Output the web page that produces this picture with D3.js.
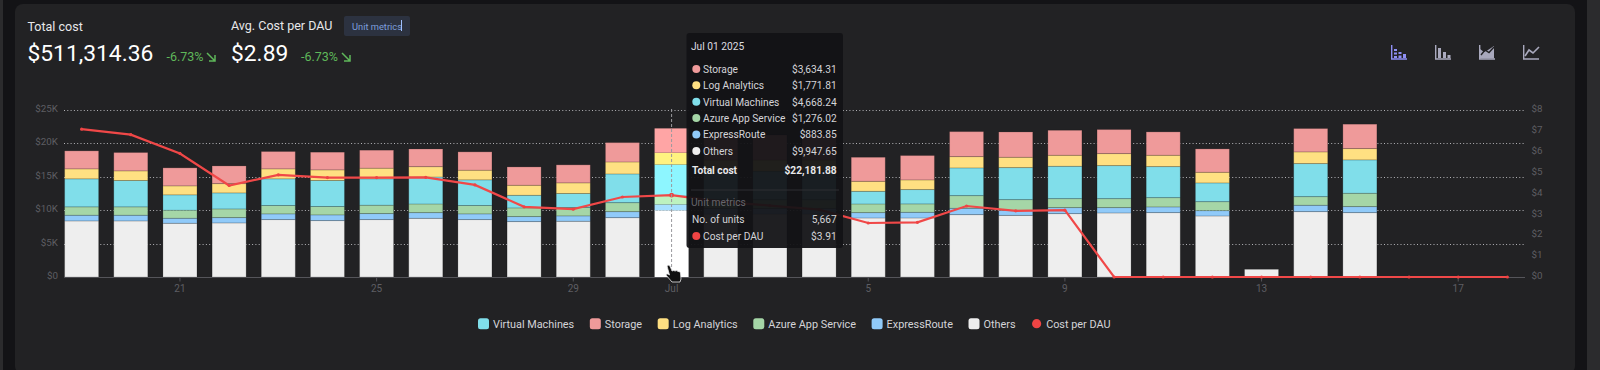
<!DOCTYPE html>
<html>
<head>
<meta charset="utf-8">
<script src="https://cdn.jsdelivr.net/npm/d3@7"></script>
<style>
  html, body { margin: 0; padding: 0; background: #131316; overflow: hidden; }
  #chart { position: relative; width: 1600px; height: 370px; font-family: Roboto, sans-serif; }
  svg { position: absolute; left: 0; top: 0; }
  text { font-family: Roboto, sans-serif; }
</style>
</head>
<body>
<div id="chart"></div>
<script>
// values in $K
const days = ["19","20","21","22","23","24","25","26","27","28","29","30","Jul","2","3","4","5","6","7","8","9","10","11","12","13","14","15","16","17","18"];
const tickDays = ["21","25","29","Jul","5","9","13","17"];
const others = [8.37,8.37,8.02,8.07,8.57,8.42,8.57,8.76,8.57,8.27,8.32,8.86,9.95,9.4,9.4,9.4,8.81,8.81,9.31,9.2,9.46,9.56,9.61,9.11,1.15,9.76,9.61,0,0,0];
const expressRoute = [0.85,0.85,0.75,0.8,0.85,0.85,0.9,0.85,0.85,0.75,0.8,0.9,0.88,0.85,0.85,0.85,0.8,0.85,0.95,0.75,0.9,0.8,0.85,0.8,0,0.95,0.9,0,0,0];
const azureApp = [1.25,1.25,1.2,1.29,1.25,1.25,1.25,1.29,1.25,1.29,1.25,1.34,1.28,1.3,1.3,1.3,1.29,1.25,1.89,1.6,1.34,1.34,1.39,1.34,0,1.29,1.99,0,0,0];
const virtualMachines = [4.18,3.93,2.29,2.39,3.98,3.88,3.93,4.03,3.83,1.89,2.09,4.28,4.67,4.25,4.25,4.25,1.89,2.14,4.13,4.78,4.83,4.93,4.63,2.79,0,4.93,4.98,0,0,0];
const logAnalytics = [1.49,1.44,1.34,1.39,1.49,1.59,1.59,1.54,1.44,1.49,1.59,1.79,1.77,1.66,1.66,1.66,1.49,1.44,1.69,1.54,1.64,1.79,1.69,1.59,0,1.74,1.69,0,0,0];
const storage = [2.69,2.74,2.69,2.64,2.59,2.64,2.69,2.64,2.74,2.74,2.69,2.89,3.63,3.73,3.73,3.73,3.59,3.64,3.73,3.78,3.73,3.59,3.49,3.49,0,3.49,3.64,0,0,0];
const costPerDau = [7.06,6.8,5.9,4.37,4.88,4.75,4.75,4.76,4.4,3.35,3.24,3.82,3.91,3.6,3.41,3.22,2.58,2.61,3.39,3.16,3.19,0,0,0,0,0,0,0,0,0];

const seriesNames = ["Others","ExpressRoute","Azure App Service","Virtual Machines","Log Analytics","Storage"];
const seriesValues = [others, expressRoute, azureApp, virtualMachines, logAnalytics, storage];
const seriesColors = ["#eeeeee","#90caf9","#a5d6a7","#80deea","#ffe082","#ef9a9a"];
const hoverColors = ["#ffffff","#a6e0ff","#bdf2bf","#8df6ff","#fff280","#ffa5a5"];
const legendNames = ["Virtual Machines","Storage","Log Analytics","Azure App Service","ExpressRoute","Others","Cost per DAU"];
const legendColors = ["#80deea","#ef9a9a","#ffe082","#a5d6a7","#90caf9","#eeeeee","#ef4444"];

const tipRows = ["Storage","Log Analytics","Virtual Machines","Azure App Service","ExpressRoute","Others"];
const tipValues = ["$3,634.31","$1,771.81","$4,668.24","$1,276.02","$883.85","$9,947.65"];
const tipColors = ["#ef9a9a","#ffe082","#80deea","#a5d6a7","#90caf9","#eeeeee"];

const leftTicks = [0,5,10,15,20,25];
const rightTicks = [0,1,2,3,4,5,6,7,8];
const hoverIndex = 12;

const svg = d3.select("#chart").append("svg").attr("width",1600).attr("height",370);

// page frame
svg.append("rect").attr("x",3).attr("y",0).attr("width",1584).attr("height",370).attr("fill","#131316");
svg.append("rect").attr("x",0).attr("y",0).attr("width",3).attr("height",370).attr("fill","#2b2b2d");
svg.append("rect").attr("x",1587).attr("y",0).attr("width",13).attr("height",370).attr("fill","#2b2b2d");
svg.append("rect").attr("x",15).attr("y",4).attr("width",1560).attr("height",370).attr("rx",8).attr("fill","#222224");

const x = d3.scaleBand().domain(days.map((d,i) => i)).range([57.05,1531.95]).paddingInner(0.308).paddingOuter(0.154);
const y = d3.scaleLinear().domain([0,25]).range([277,109.5]);
const yRight = d3.scaleLinear().domain([0,8]).range([277,109.5]);
const cx = (i) => x(i) + x.bandwidth()/2;
const gridLeft = 64, gridRight = 1525;

// grid
svg.append("g").selectAll("line").data(leftTicks.slice(1)).enter().append("line")
  .attr("x1",gridLeft).attr("x2",gridRight)
  .attr("y1",d => Math.round(y(d))+0.5).attr("y2",d => Math.round(y(d))+0.5)
  .attr("stroke","#b4b4b8").attr("stroke-dasharray","1 2.3");

// axis base line
svg.append("line").attr("x1",gridLeft).attr("x2",gridRight).attr("y1",277.5).attr("y2",277.5).attr("stroke","#55555a");

// left axis
const axisLeft = svg.append("g").attr("transform","translate(59,-1.5)")
  .call(d3.axisLeft(y).tickValues(leftTicks).tickSize(0).tickPadding(1).tickFormat(d => d === 0 ? "$0" : `$${d}K`));
axisLeft.select(".domain").remove();
axisLeft.selectAll("text").attr("fill","#5e5e63").style("font-size","9.8px");

// right axis
const axisRight = svg.append("g").attr("transform","translate(1531.5,-1.3)")
  .call(d3.axisRight(yRight).tickValues(rightTicks).tickSize(0).tickPadding(0).tickFormat(d => `$${d}`));
axisRight.select(".domain").remove();
axisRight.selectAll("text").attr("fill","#5e5e63").style("font-size","9.8px");

// bottom axis
const xTicks = days.map((d,i) => i).filter(i => tickDays.includes(days[i]));
const axisBottom = svg.append("g").attr("transform","translate(0,277.5)")
  .call(d3.axisBottom(x).tickValues(xTicks).tickSize(4).tickPadding(3).tickFormat(i => days[i]));
axisBottom.select(".domain").remove();
axisBottom.selectAll("line").attr("stroke","#55555a");
axisBottom.selectAll("text").attr("fill","#5e5e63").style("font-size","10px");

// stacked bars
const stacked = days.map((d,i) => {
  let acc = 0;
  return seriesNames.map((name,s) => {
    const v = seriesValues[s][i];
    const seg = { i, s, y0: acc, y1: acc + v };
    acc += v;
    return seg;
  });
}).flat().filter(d => d.y1 > d.y0);

svg.append("g").selectAll("rect").data(stacked).enter().append("rect")
  .attr("x",d => x(d.i))
  .attr("width",x.bandwidth())
  .attr("y",d => y(d.y1))
  .attr("height",d => y(d.y0)-y(d.y1))
  .attr("fill",d => d.i === hoverIndex ? hoverColors[d.s] : seriesColors[d.s])
  .attr("stroke",d => d.i === hoverIndex ? "none" : "#000")
  .attr("stroke-opacity",0.16)
  .attr("stroke-width",1);

// cost per DAU line
const line = d3.line().x((d,i) => cx(i)).y(d => yRight(d));
svg.append("path").datum(costPerDau).attr("d",line).attr("fill","none").attr("stroke","#f04848").attr("stroke-width",2.2);
svg.append("g").selectAll("circle").data(costPerDau).enter().append("circle")
  .attr("cx",(d,i) => cx(i)).attr("cy",d => yRight(d)).attr("r",(d,i) => i === hoverIndex ? 2.4 : 1.6).attr("fill","#ef4444");

// hover crosshair
svg.append("line").attr("x1",cx(hoverIndex)).attr("x2",cx(hoverIndex)).attr("y1",109).attr("y2",277)
  .attr("stroke","#9a9a9e").attr("stroke-dasharray","3 2");

// header
const text = (sel,tx,ty,str,size,fill,extra) => {
  const t = sel.append("text").attr("x",tx).attr("y",ty).text(str).style("font-size",size+"px").attr("fill",fill);
  if (extra) extra(t);
  return t;
};
const arrow = (px,py) => {
  svg.append("path").attr("d",`M${px},${py} l8,8 M${px+8},${py+2} v6 h-6`).attr("fill","none").attr("stroke","#5fb85a").attr("stroke-width",1.5);
};
text(svg,27.5,31,"Total cost",12.5,"#e8e8ea");
text(svg,27.5,60.5,"$511,314.36",22.8,"#ffffff");
text(svg,166.5,61,"-6.73%",12.5,"#5fb85a");
arrow(207,53);
text(svg,231,30,"Avg. Cost per DAU",12.5,"#e8e8ea");
text(svg,231,60.5,"$2.89",22.8,"#ffffff");
text(svg,301,61,"-6.73%",12.5,"#5fb85a");
arrow(342,53);
svg.append("rect").attr("x",344).attr("y",16).attr("width",66).attr("height",20).attr("rx",2).attr("fill","#2c3240");
text(svg,352,29.5,"Unit metrics",9.3,"#7d9fdc");
svg.append("line").attr("x1",401.5).attr("x2",401.5).attr("y1",20).attr("y2",31).attr("stroke","#9fc0ff");

// toolbar icons
const iconGroup = svg.append("g").attr("fill","none");
const iconColor = ["#8f8ff5","#a9a9bd","#a9a9bd","#a9a9bd"];
[1393,1437,1481,1525].forEach((ix,n) => {
  const g = iconGroup.append("g").attr("transform",`translate(${ix-2},45)`).attr("stroke",iconColor[n]).attr("stroke-width",1.4);
  g.append("path").attr("d","M0.7,0 V14 H16");
  if (n === 0) {
    g.append("path").attr("d","M4.5,4 V6 M4.5,7.5 V9.5 M4.5,11 V13 M9,7 V9 M9,10.5 V13 M13.5,9 V13").attr("stroke-width",3);
  } else if (n === 1) {
    g.append("path").attr("d","M4.5,3 V13 M9.5,7 V13 M14,10 V13").attr("stroke-width",3);
  } else if (n === 2) {
    g.append("path").attr("d","M1,13.5 V4 L5,7 L9,5 L15,1 V13.5 Z").attr("fill",iconColor[n]).attr("stroke","none");
    g.append("path").attr("d","M2,10 L6,5 L10,7.5 L15,2").attr("stroke","#222224");
  } else {
    g.append("path").attr("d","M2,11 L6,5 L10,8 L16,2").attr("stroke-width",1.6);
  }
});

// legend, laid out left to right from the measured text widths
const legend = svg.append("g");
let legendCursor = 478;
legendNames.forEach((name,i) => {
  if (name === "Cost per DAU") {
    legend.append("circle").attr("cx",legendCursor+5.5).attr("cy",323.7).attr("r",4.6).attr("fill",legendColors[i]);
  } else {
    legend.append("rect").attr("x",legendCursor).attr("y",318.2).attr("width",11).attr("height",11).attr("rx",2.5).attr("fill",legendColors[i]);
  }
  const t = text(legend,legendCursor+15,327.5,name,10.85,"#d4d4d8");
  legendCursor += 15 + t.node().getComputedTextLength() + 15.6;
});

// tooltip
const tip = svg.append("g");
tip.append("rect").attr("x",686.5).attr("y",33).attr("width",156.5).attr("height",215).attr("rx",3).attr("fill","#121215").attr("fill-opacity",0.94);
text(tip,691,50,"Jul 01 2025",10.2,"#dcdce0");
const tipRowY = d3.scaleLinear().domain([0,5]).range([72.7,154.7]);
tipRows.forEach((name,i) => {
  const ry = tipRowY(i);
  tip.append("circle").attr("cx",696.3).attr("cy",ry-3.8).attr("r",4).attr("fill",tipColors[i]);
  text(tip,703,ry,name,10.2,"#d4d4d8");
  text(tip,836.7,ry,tipValues[i],10.2,"#d4d4d8",t => t.attr("text-anchor","end"));
});
text(tip,692,174,"Total cost",10.2,"#e8e8ea",t => t.style("font-weight","700"));
text(tip,836.7,174,"$22,181.88",10.2,"#e8e8ea",t => t.style("font-weight","700").attr("text-anchor","end"));
tip.append("line").attr("x1",691).attr("x2",839).attr("y1",190).attr("y2",190).attr("stroke","#2e2e33");
text(tip,691,206,"Unit metrics",10.2,"#66666c");
text(tip,692,223,"No. of units",10.2,"#d4d4d8");
text(tip,836.7,223,"5,667",10.2,"#d4d4d8",t => t.attr("text-anchor","end"));
tip.append("circle").attr("cx",696.3).attr("cy",236).attr("r",4).attr("fill","#ef4444");
text(tip,703,239.5,"Cost per DAU",10.2,"#d4d4d8");
text(tip,836.7,239.5,"$3.91",10.2,"#d4d4d8",t => t.attr("text-anchor","end"));

// hand cursor
svg.append("path")
  .attr("d","M667,266 q1.5,-1.5 3,0 l2,5 q2,-1 3,0 q2,-1 3,0.5 q2,-0.5 2.5,1.5 l0.5,6 l-1,3 h-8 l-6,-7 q0,-1.5 2,-1 l1.5,1 Z")
  .attr("fill","#111").attr("stroke","#e8e8ea").attr("stroke-width",0.8);
</script>
</body>
</html>
